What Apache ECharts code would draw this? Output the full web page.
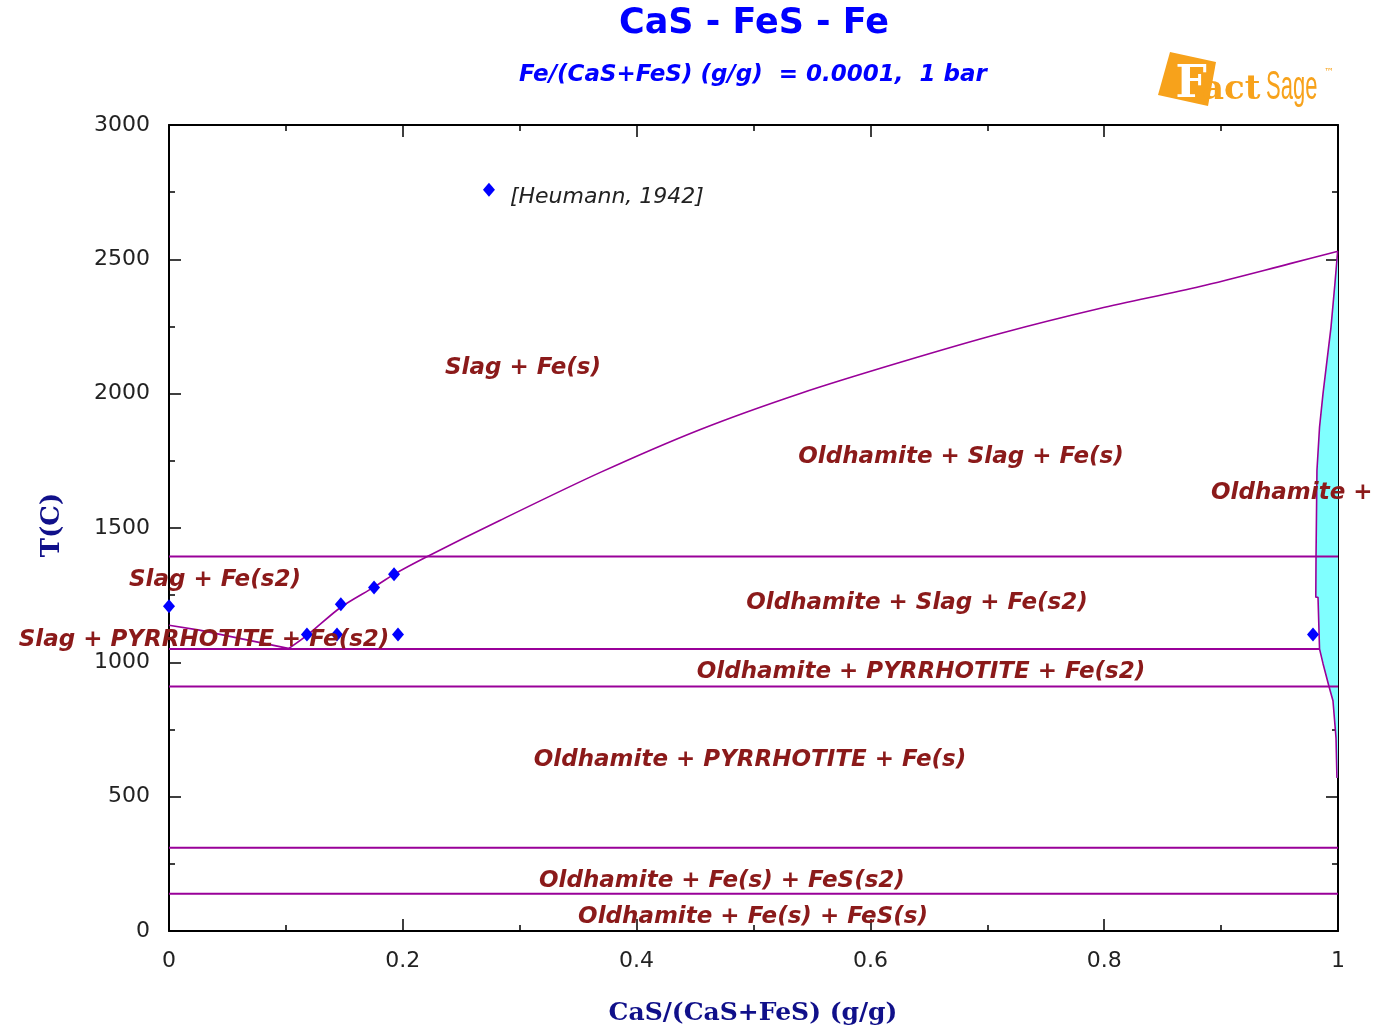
<!DOCTYPE html>
<html>
<head>
<meta charset="utf-8">
<script src="https://cdn.jsdelivr.net/npm/echarts@6.0.0/dist/echarts.min.js"></script>
<style>
html,body{margin:0;padding:0;background:#fff;}
#chart{width:1374px;height:1030px;}
</style>
</head>
<body>
<div id="chart"></div>
<script>
// x = CaS/(CaS+FeS) mass fraction, y = temperature in °C

// Slag liquidus (Fe(s) / oldhamite saturation)
const liquidus = [
  [0.102,1050],[0.118,1100],[0.147,1205],[0.175,1279],[0.193,1329],[0.221,1394],
  [0.283,1528],[0.369,1707],[0.454,1866],[0.540,2001],[0.625,2116],[0.711,2224],
  [0.796,2317],[0.882,2399],[0.959,2484],[1.0,2530]
];
// Pyrrhotite liquidus on the FeS-rich side
const pyrrhotiteLiquidus = [[0,1138],[0.026,1120],[0.103,1051]];
// Oldhamite solid-solution boundary near pure CaS
const oldhamiteSolvus = [
  [0.9997,2530],[0.9974,2411],[0.994,2247],[0.9872,2001],[0.9842,1875],[0.982,1715],
  [0.9812,1394],[0.981,1242],[0.9829,1242],[0.9842,1050],[0.9872,995],[0.9923,910],
  [0.9957,857],[0.9983,719],[0.9991,570]
];
// Invariant lines: [T, x start, x end]
const isotherms = [[1394,0,1],[1050,0,0.9842],[910,0,1],[310,0,1],[139,0,1]];
// Experimental points
const heumannName = '[Heumann, 1942]';
const heumannPoints = [
  [0,1209],[0.118,1104],[0.1437,1104],[0.147,1216],[0.1754,1279],[0.1925,1328],
  [0.1959,1104],[0.9786,1104]
];
// Key marker for the experimental data set
const heumannKey = [[0.2737,2759]];
// Phase-field labels: [x, T, text]
const phaseLabels = [
  [0.3028,2097,'Slag + Fe(s)'],
  [0.6775,1763,'Oldhamite + Slag + Fe(s)'],
  [0.9914,1629,'Oldhamite + Fe(s)'],
  [0.0393,1305,'Slag + Fe(s2)'],
  [0.030,1082,'Slag + PYRRHOTITE + Fe(s2)'],
  [0.6399,1220,'Oldhamite + Slag + Fe(s2)'],
  [0.6433,963,'Oldhamite + PYRRHOTITE + Fe(s2)'],
  [0.497,636,'Oldhamite + PYRRHOTITE + Fe(s)'],
  [0.473,186,'Oldhamite + Fe(s) + FeS(s2)'],
  [0.4996,52,'Oldhamite + Fe(s) + FeS(s)']
];
const xTicks = {min:0, max:1, interval:0.2};
const yTicks = {min:0, max:3000, interval:500};

const lineColor = '#990099';
const labelColor = '#8b1a1a';
const chart = echarts.init(document.getElementById('chart'), null, {renderer:'canvas'});

function makeAxis(base, position, showLabel) {
  return Object.assign({
    type:'value',
    position: position,
    axisLine:{show:true, onZero:false, lineStyle:{color:'#000', width:2}},
    axisTick:{show:true, inside:true, length:12, lineStyle:{color:'#000', width:1.5}},
    minorTick:{show:true, splitNumber:2, length:6, lineStyle:{color:'#000', width:1.5}},
    splitLine:{show:false},
    axisLabel:{show:showLabel, color:'#222', fontFamily:'DejaVu Sans', fontSize:22,
      margin:19, formatter:function(v){ return String(v); }}
  }, base);
}

const series = [];

// Oldhamite solid solution field
const ssPolygon = oldhamiteSolvus.concat([[1,570],[1,2530]]);
series.push({
  type:'custom', silent:true, z:1, clip:true,
  data:[0],
  renderItem:function(params, api){
    return {
      type:'polygon',
      shape:{points: ssPolygon.map(function(p){ return api.coord(p); })},
      style:{fill:'#80ffff'}
    };
  }
});

isotherms.forEach(function(t){
  series.push({
    type:'line', silent:true, symbol:'none', z:2,
    data:[[t[1],t[0]],[t[2],t[0]]],
    lineStyle:{color:lineColor, width:2}
  });
});

series.push({
  type:'line', silent:true, symbol:'none', z:2, smooth:0.3,
  data:liquidus, lineStyle:{color:lineColor, width:1.6}
});
[pyrrhotiteLiquidus, oldhamiteSolvus].forEach(function(c){
  series.push({
    type:'line', silent:true, symbol:'none', z:2,
    data:c, lineStyle:{color:lineColor, width:1.6}
  });
});

series.push({
  name: heumannName,
  type:'scatter', symbol:'diamond', symbolSize:[12,14], z:3,
  itemStyle:{color:'#0000ff', opacity:1},
  data: heumannPoints
});
series.push({
  name: heumannName,
  type:'scatter', symbol:'diamond', symbolSize:[12,14], z:3, silent:true,
  itemStyle:{color:'#0000ff', opacity:1},
  data: heumannKey,
  label:{show:true, position:'right', distance:15, offset:[0,8], opacity:1,
    formatter:function(){ return heumannName; },
    fontFamily:'DejaVu Sans', fontStyle:'italic', fontSize:22, color:'#222'}
});

series.push({
  type:'scatter', silent:true, symbolSize:0, z:5, clip:false,
  itemStyle:{opacity:1},
  data: phaseLabels.map(function(l){ return {value:[l[0], l[1]], name:l[2]}; }),
  label:{
    show:true, position:'inside', opacity:1,
    formatter:function(p){ return p.name; },
    color:labelColor, fontFamily:'DejaVu Sans', fontStyle:'italic', fontWeight:'bold', fontSize:23
  }
});

const orange = '#f7a21b';

chart.setOption({
  animation:false,
  backgroundColor:'#fff',
  grid:{left:169, right:36, top:125, bottom:99, containLabel:false},
  xAxis:[
    makeAxis(xTicks, 'bottom', true),
    makeAxis(xTicks, 'top', false)
  ],
  yAxis:[
    makeAxis(yTicks, 'left', true),
    makeAxis(yTicks, 'right', false)
  ],
  graphic:[
    {type:'text', x:754, y:24, style:{text:'CaS - FeS - Fe', fill:'#0000ff',
      font:'bold 35px "DejaVu Sans"', textAlign:'center', textVerticalAlign:'middle'}},
    {type:'text', x:753, y:75, style:{text:'Fe/(CaS+FeS) (g/g)  = 0.0001,  1 bar', fill:'#0000ff',
      font:'italic bold 23px "DejaVu Sans"', textAlign:'center', textVerticalAlign:'middle'}},
    {type:'text', x:52, y:525, rotation:Math.PI/2, style:{text:'T(C)', fill:'#10108a',
      font:'bold 26px "DejaVu Serif"', textAlign:'center', textVerticalAlign:'middle'}},
    {type:'text', x:753, y:1013, style:{text:'CaS/(CaS+FeS) (g/g)', fill:'#10108a',
      font:'bold 25px "DejaVu Serif"', textAlign:'center', textVerticalAlign:'middle'}},
    // FactSage mark
    {type:'polygon', shape:{points:[[1170,52],[1216,62],[1208,106],[1158,95]]}, style:{fill:orange}},
    {type:'text', x:1191, y:86, style:{text:'F', fill:'#fff',
      font:'bold 44px "DejaVu Serif"', textAlign:'center', textVerticalAlign:'middle'}},
    {type:'text', x:1202, y:90, style:{text:'act', fill:orange,
      font:'bold 34px "DejaVu Serif"', textAlign:'left', textVerticalAlign:'middle'}},
    {type:'text', x:1266, y:88, scaleX:0.55, style:{text:'Sage', fill:orange,
      font:'40px "Liberation Sans"', textAlign:'left', textVerticalAlign:'middle'}},
    {type:'text', x:1324, y:72, style:{text:'\u2122', fill:orange,
      font:'10px "DejaVu Sans"', textAlign:'left', textVerticalAlign:'middle'}}
  ],
  series: series
});
</script>
</body>
</html>
